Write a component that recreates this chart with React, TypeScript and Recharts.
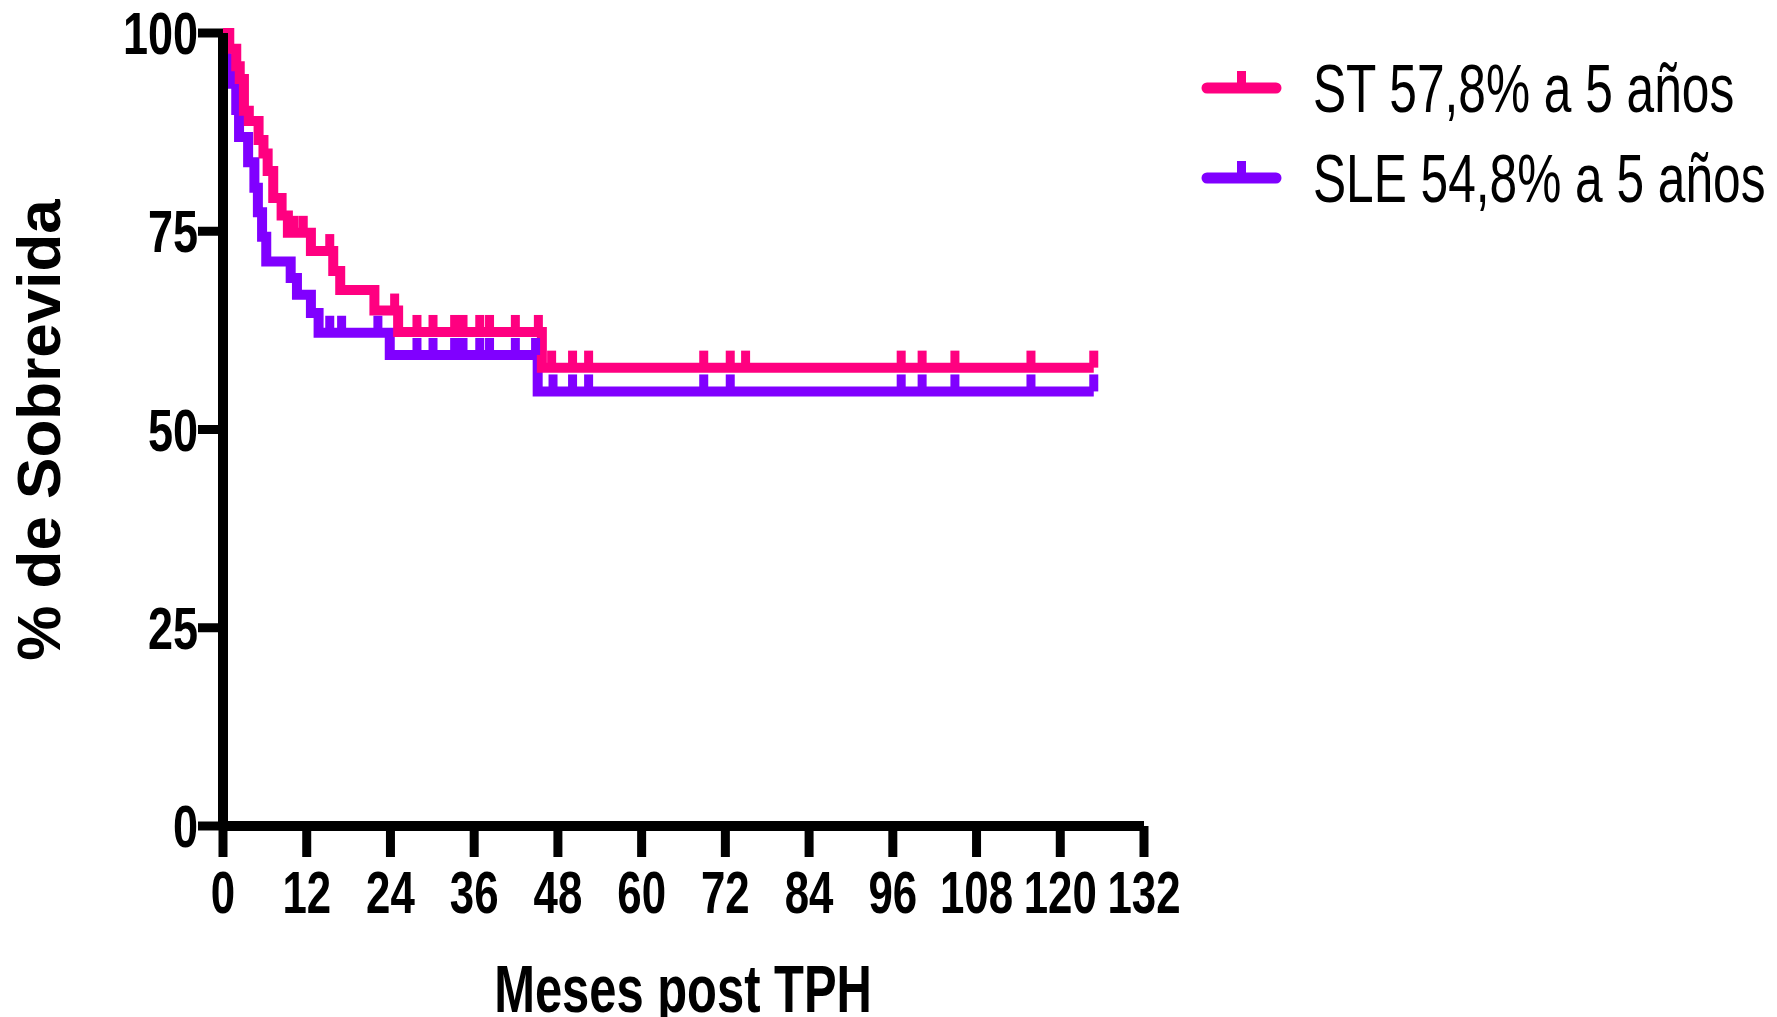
import React from "react";
import {
  ComposedChart,
  Line,
  Scatter,
  XAxis,
  YAxis,
  Legend,
} from "recharts";

// Kaplan-Meier curves (months, % survival)
const ST_TIMES = [0, 0.9, 1.9, 2.4, 3.0, 3.7, 5.1, 5.8, 6.4, 7.2, 8.4, 9.3, 12.6, 15.8, 16.8, 21.7, 25.1, 45.7, 124.8];
const ST_SURV = [100, 98.0, 95.8, 94.2, 90.2, 88.9, 86.5, 84.8, 82.6, 79.2, 77.0, 74.8, 72.5, 70.0, 67.6, 65.0, 62.3, 57.8, 57.8];
const ST_CENSORED = [10.2, 11.5, 15.3, 24.6, 27.8, 30.1, 33.2, 34.4, 36.8, 38.2, 41.9, 45.2, 47.1, 50.1, 52.4, 68.9, 72.7, 74.9, 97.2, 100.2, 104.9, 115.8, 124.8];

const SLE_TIMES = [0, 0.4, 1.4, 1.9, 2.3, 3.6, 4.5, 5.0, 5.6, 6.2, 9.7, 10.6, 12.6, 13.7, 23.9, 45.1, 124.8];
const SLE_SURV = [100, 96.8, 93.6, 90.3, 86.9, 83.7, 80.5, 77.4, 74.3, 71.2, 69.1, 67.0, 64.7, 62.2, 59.4, 54.8, 54.8];
const SLE_CENSORED = [15.3, 17.0, 22.2, 27.8, 30.1, 33.2, 34.4, 36.8, 38.2, 41.9, 44.8, 47.3, 50.1, 52.4, 68.9, 72.7, 97.2, 100.2, 104.9, 115.8, 124.8];

const X_TICKS = [0, 12, 24, 36, 48, 60, 72, 84, 96, 108, 120, 132];
const Y_TICKS = [0, 25, 50, 75, 100];

const ST_COLOR = "#ff0080";
const SLE_COLOR = "#8000ff";
const FONT = "'Liberation Sans', Arial, sans-serif";

const SERIES = [
  { name: "ST 57,8% a 5 años", color: ST_COLOR },
  { name: "SLE 54,8% a 5 años", color: SLE_COLOR },
];

const toSteps = (times: number[], surv: number[]) =>
  times.map((t, i) => ({ t, s: surv[i] }));

// survival value of the step curve at time t (where a censor mark sits)
const survAt = (times: number[], surv: number[], t: number) => {
  let v = surv[0];
  times.forEach((tt, i) => {
    if (tt <= t) v = surv[i];
  });
  return v;
};

const toCensor = (times: number[], surv: number[], cens: number[]) =>
  cens.map((t) => ({ t, s: survAt(times, surv, t) }));

const stData = toSteps(ST_TIMES, ST_SURV);
const sleData = toSteps(SLE_TIMES, SLE_SURV);
const stCensor = toCensor(ST_TIMES, ST_SURV, ST_CENSORED);
const sleCensor = toCensor(SLE_TIMES, SLE_SURV, SLE_CENSORED);

function CensorMark(props: any) {
  const { cx, cy, fill } = props;
  if (cx == null || cy == null) return null;
  return <rect x={cx - 4.5} y={cy - 17} width={9} height={17} fill={fill} />;
}

function XTick({ x, y, payload }: any) {
  return (
    <g transform={`translate(${x},${y})`}>
      <text
        x={0}
        y={56}
        textAnchor="middle"
        transform="scale(0.73,1)"
        fontFamily={FONT}
        fontWeight="bold"
        fontSize={60}
        fill="#000"
      >
        {payload.value}
      </text>
    </g>
  );
}

function YTick({ x, y, payload }: any) {
  return (
    <g transform={`translate(${x},${y})`}>
      <text
        x={0}
        y={21}
        textAnchor="end"
        transform="scale(0.75,1)"
        fontFamily={FONT}
        fontWeight="bold"
        fontSize={60}
        fill="#000"
      >
        {payload.value}
      </text>
    </g>
  );
}

function LegendBox() {
  return (
    <svg width={597} height={200} style={{ display: "block" }}>
      {SERIES.map((s, i) => {
        const cy = 58 + i * 90;
        return (
          <g key={s.name}>
            <line x1={27} x2={96} y1={cy} y2={cy} stroke={s.color} strokeWidth={11} strokeLinecap="round" />
            <rect x={57} y={cy - 17} width={9} height={17} fill={s.color} />
            <text
              x={0}
              y={cy + 24}
              transform={`translate(133,0) scale(0.73,1)`}
              fontFamily={FONT}
              fontSize={68}
              fill="#000"
            >
              {s.name}
            </text>
          </g>
        );
      })}
    </svg>
  );
}

export default function App() {
  return (
    <div style={{ width: 1777, height: 1017, background: "#fff" }}>
      <style>{"body{margin:0}"}</style>
      <ComposedChart
        width={1777}
        height={1017}
        margin={{ top: 33, right: 633, left: 0, bottom: 0 }}
      >
        <XAxis
          type="number"
          dataKey="t"
          domain={[0, 132]}
          ticks={X_TICKS}
          interval={0}
          height={191}
          tickSize={31}
          tickMargin={0}
          axisLine={{ stroke: "#000", strokeWidth: 10 }}
          tickLine={{ stroke: "#000", strokeWidth: 9 }}
          tick={<XTick />}
          label={{
            content: () => (
              <text
                x={0}
                y={0}
                transform="translate(683,1012) scale(0.73,1)"
                textAnchor="middle"
                fontFamily={FONT}
                fontWeight="bold"
                fontSize={67}
                fill="#000"
              >
                Meses post TPH
              </text>
            ),
          }}
        />
        <YAxis
          type="number"
          dataKey="s"
          domain={[0, 100]}
          ticks={Y_TICKS}
          interval={0}
          width={223}
          tickSize={25}
          tickMargin={0}
          axisLine={{ stroke: "#000", strokeWidth: 10 }}
          tickLine={{ stroke: "#000", strokeWidth: 9 }}
          tick={<YTick />}
          label={{
            content: () => (
              <text
                x={0}
                y={0}
                transform="translate(60,430) rotate(-90)"
                textAnchor="middle"
                fontFamily={FONT}
                fontWeight="bold"
                fontSize={62}
                fill="#000"
              >
                % de Sobrevida
              </text>
            ),
          }}
        />
        <Legend
          layout="horizontal"
          verticalAlign="middle"
          align="center"
          content={() => <LegendBox />}
          wrapperStyle={{ left: 1180, top: 30, width: 597, height: 200 }}
        />
        <Line
          data={sleData}
          dataKey="s"
          type="stepAfter"
          stroke={SLE_COLOR}
          strokeWidth={10}
          dot={false}
          activeDot={false}
          isAnimationActive={false}
          legendType="none"
        />
        <Scatter
          data={sleCensor}
          dataKey="s"
          fill={SLE_COLOR}
          shape={<CensorMark />}
          isAnimationActive={false}
          legendType="none"
        />
        <Line
          data={stData}
          dataKey="s"
          type="stepAfter"
          stroke={ST_COLOR}
          strokeWidth={10}
          dot={false}
          activeDot={false}
          isAnimationActive={false}
          legendType="none"
        />
        <Scatter
          data={stCensor}
          dataKey="s"
          fill={ST_COLOR}
          shape={<CensorMark />}
          isAnimationActive={false}
          legendType="none"
        />
      </ComposedChart>
    </div>
  );
}
